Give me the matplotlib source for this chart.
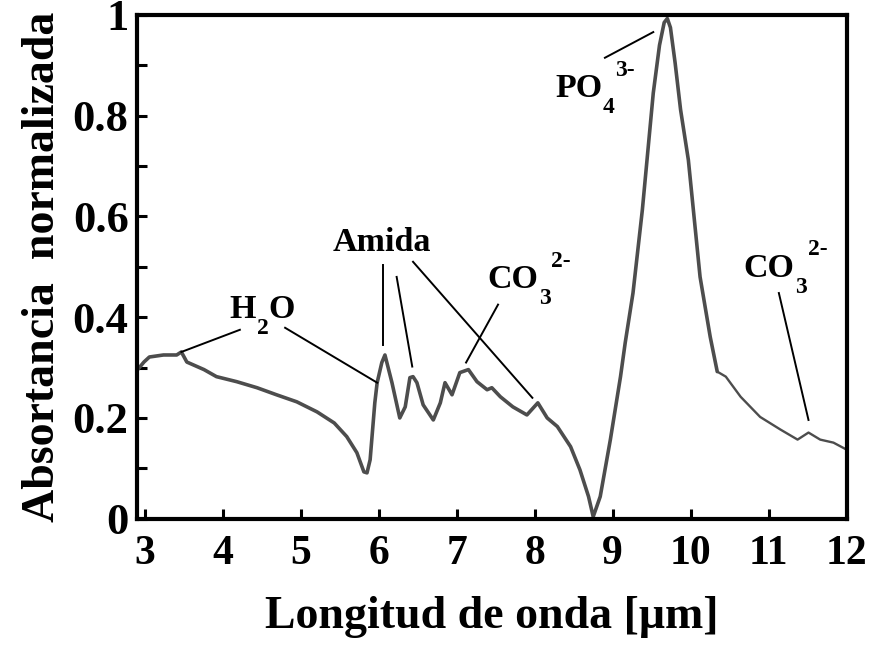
import matplotlib
matplotlib.use("Agg")
import matplotlib.pyplot as plt
from matplotlib.ticker import MultipleLocator, FixedLocator

plt.rcParams['font.family'] = ['Liberation Serif', 'DejaVu Serif']
plt.rcParams['font.weight'] = 'bold'

# Spectrum (wavelength in µm, normalized absorbance)
wavelength = [2.91, 2.99, 3.06, 3.24, 3.41, 3.47, 3.54, 3.76, 3.92, 4.18, 4.44, 4.69,
              4.95, 5.21, 5.43, 5.59, 5.72, 5.81, 5.85, 5.89, 5.95, 5.98, 6.04, 6.08,
              6.17, 6.27, 6.34, 6.40, 6.44, 6.49, 6.57, 6.70, 6.79, 6.85, 6.94, 7.04,
              7.15, 7.26, 7.39, 7.45, 7.56, 7.72, 7.90, 8.04, 8.16, 8.29, 8.46, 8.58,
              8.69, 8.75, 8.84, 8.97, 9.10, 9.16, 9.26, 9.38, 9.52, 9.60, 9.66, 9.70,
              9.74, 9.80, 9.87, 9.97, 10.12, 10.25, 10.34, 10.45, 10.64, 10.89, 11.15,
              11.37, 11.51, 11.66, 11.83, 12.0]
absorbance = [0.296, 0.311, 0.321, 0.325, 0.325, 0.331, 0.311, 0.296, 0.282, 0.272, 0.260, 0.246,
              0.232, 0.212, 0.190, 0.163, 0.131, 0.093, 0.091, 0.117, 0.230, 0.270, 0.310, 0.325,
              0.270, 0.200, 0.222, 0.280, 0.282, 0.270, 0.226, 0.196, 0.230, 0.270, 0.246, 0.290,
              0.296, 0.272, 0.256, 0.260, 0.242, 0.222, 0.206, 0.230, 0.200, 0.183, 0.143, 0.097,
              0.044, 0.004, 0.044, 0.157, 0.282, 0.349, 0.448, 0.613, 0.845, 0.940, 0.985, 0.993,
              0.975, 0.905, 0.812, 0.712, 0.480, 0.361, 0.292, 0.282, 0.242, 0.202, 0.177,
              0.157, 0.171, 0.157, 0.151, 0.137]

x_ticks = [3, 4, 5, 6, 7, 8, 9, 10, 11, 12]
y_ticks = [0, 0.2, 0.4, 0.6, 0.8, 1.0]
y_tick_labels = ['0', '0.2', '0.4', '0.6', '0.8', '1']

# Annotations: main text, subscript, superscript, trailing text, left/baseline position
label_main = ['H', 'Amida', 'CO', 'PO', 'CO']
label_sub = ['2', '', '3', '4', '3']
label_sup = ['', '', '2-', '3-', '2-']
label_tail = ['O', '', '', '', '']
label_pos = [(4.09, 0.399), (5.41, 0.532), (7.39, 0.458), (8.26, 0.837), (10.68, 0.480)]
leaders = [
    ((4.22, 0.375), (3.47, 0.331)),
    ((4.80, 0.379), (5.98, 0.270)),
    ((6.06, 0.504), (6.06, 0.345)),
    ((6.23, 0.480), (6.43, 0.302)),
    ((6.44, 0.510), (7.97, 0.240)),
    ((7.53, 0.425), (7.12, 0.310)),
    ((8.90, 0.915), (9.52, 0.966)),
    ((11.13, 0.448), (11.51, 0.196)),
]

fig = plt.figure(figsize=(8.72, 6.5), dpi=100)
ax = fig.add_axes([0.157, 0.202, 0.814, 0.775])

split = wavelength.index(10.34)
ax.plot(wavelength[:split + 1], absorbance[:split + 1], color='#4d4d4d', lw=2.6,
        solid_joinstyle='round', solid_capstyle='round')
ax.plot(wavelength[split:], absorbance[split:], color='#4d4d4d', lw=1.7,
        solid_joinstyle='round', solid_capstyle='round')

for (p0, p1) in leaders:
    ax.plot([p0[0], p1[0]], [p0[1], p1[1]], color='black', lw=1.4)

MAIN_FS, SMALL_FS = 24.5, 17
for main, sub, sup, tail, (tx, ty) in zip(label_main, label_sub, label_sup, label_tail, label_pos):
    t_main = ax.text(tx, ty, main, ha='left', va='baseline', fontsize=MAIN_FS, fontweight='bold')
    anchor = t_main
    if sub:
        t_sub = ax.annotate(sub, xy=(1, 0), xycoords=t_main, xytext=(0.5, -6.5),
                            textcoords='offset points', ha='left', va='baseline',
                            fontsize=SMALL_FS, fontweight='bold')
        anchor = t_sub
    if sup:
        ax.annotate(sup, xy=(1, 0), xycoords=(anchor, t_main), xytext=(0.5, 20.5),
                    textcoords='offset points', ha='left', va='baseline',
                    fontsize=SMALL_FS, fontweight='bold')
    if tail:
        ax.annotate(tail, xy=(1, 0), xycoords=(anchor, t_main), xytext=(0, 0),
                    textcoords='offset points', ha='left', va='bottom',
                    fontsize=MAIN_FS, fontweight='bold')

ax.set_xlim(2.9, 12.0)
ax.set_ylim(0, 1.0)
ax.xaxis.set_major_locator(FixedLocator(x_ticks))
ax.set_xticklabels([str(t) for t in x_ticks])
ax.set_yticks(y_ticks)
ax.set_yticklabels(y_tick_labels)
ax.yaxis.set_minor_locator(MultipleLocator(0.1))

for s in ax.spines.values():
    s.set_linewidth(3)
ax.tick_params(axis='both', which='both', direction='in', width=2.2, length=7,
               top=False, right=False)
ax.tick_params(axis='x', which='major', labelsize=30, pad=12)
ax.tick_params(axis='y', which='major', labelsize=32, pad=6)
for lbl in ax.get_xticklabels() + ax.get_yticklabels():
    lbl.set_fontweight('bold')

ax.set_xlabel('Longitud de onda [μm]', fontsize=33, fontweight='bold', labelpad=16)
ax.set_ylabel('Absortancia  normalizada', fontsize=33, fontweight='bold', labelpad=6)

fig.savefig('out.png', dpi=100, facecolor='white')
